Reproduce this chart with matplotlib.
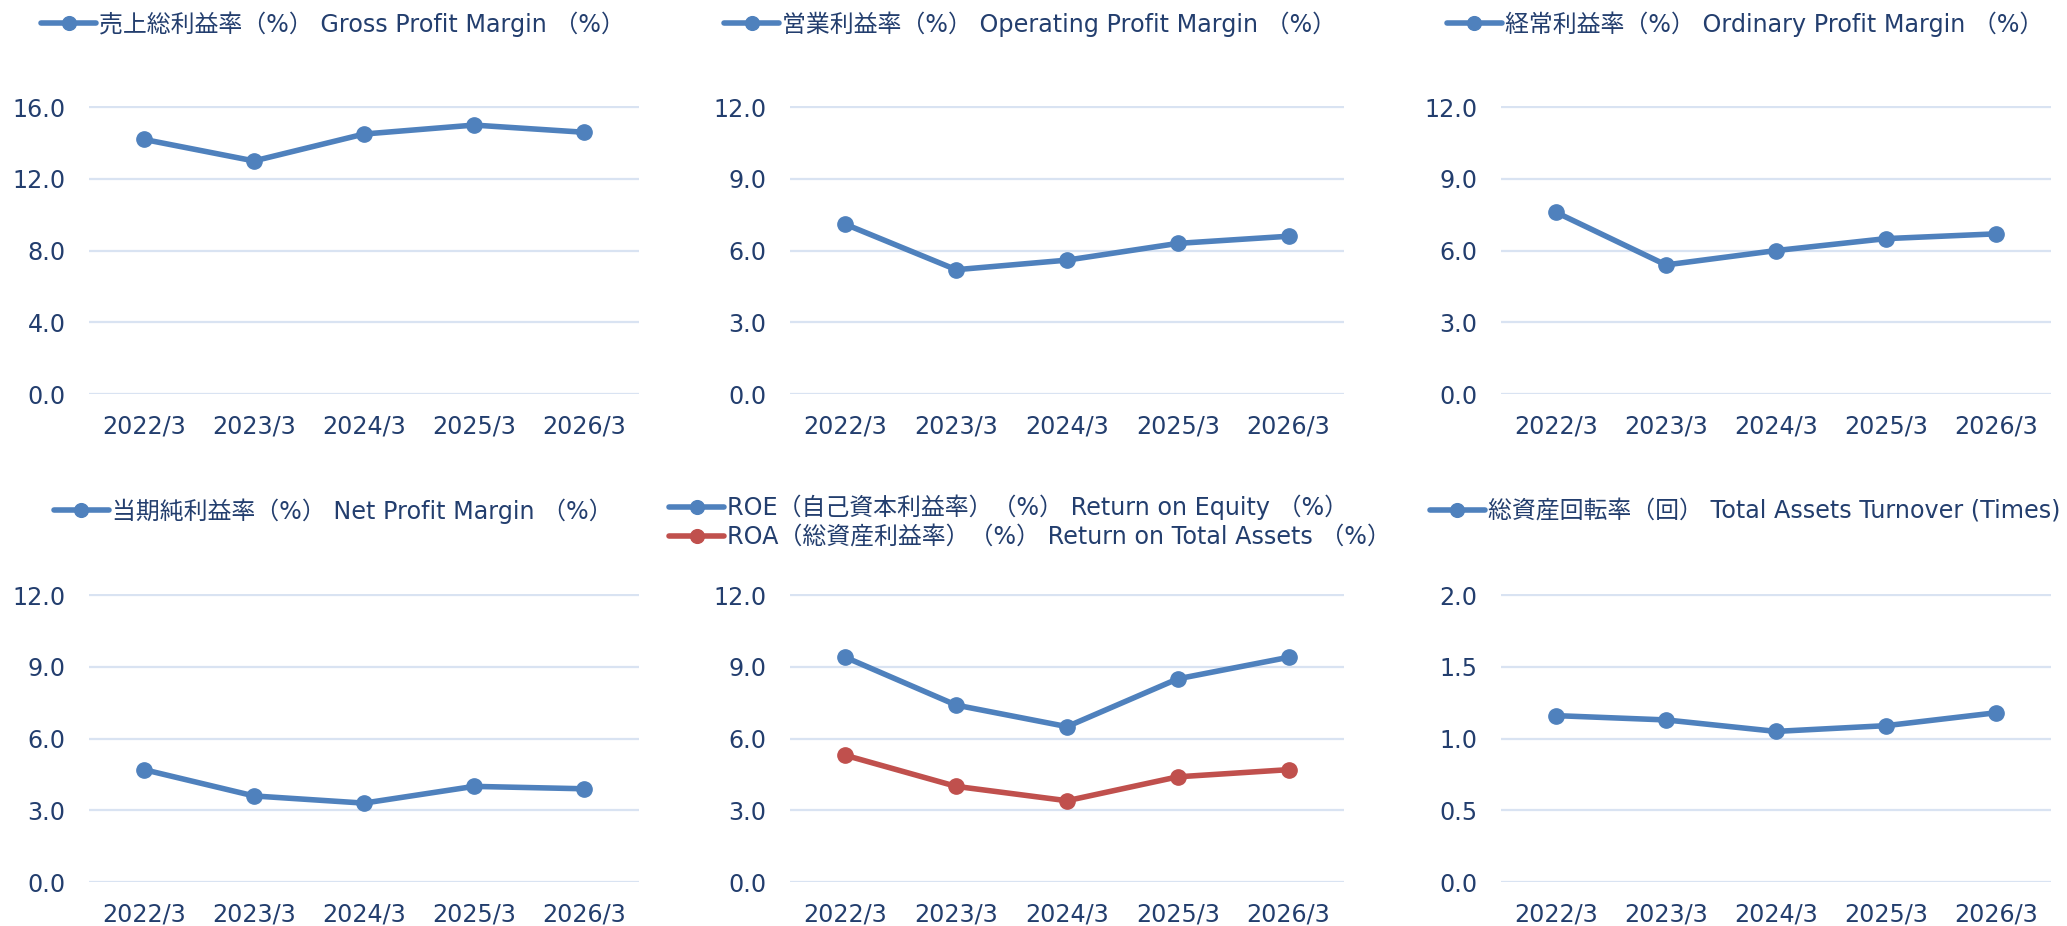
import matplotlib
matplotlib.use("Agg")
import matplotlib.pyplot as plt
from matplotlib.ticker import FormatStrFormatter

plt.rcParams['font.family'] = ['DejaVu Sans', 'Noto Sans CJK JP']

years = ['2022/3', '2023/3', '2024/3', '2025/3', '2026/3']

gross_margin = [14.2, 13.0, 14.5, 15.0, 14.6]
operating_margin = [7.1, 5.2, 5.6, 6.3, 6.6]
ordinary_margin = [7.6, 5.4, 6.0, 6.5, 6.7]
net_margin = [4.7, 3.6, 3.3, 4.0, 3.9]
roe = [9.4, 7.4, 6.5, 8.5, 9.4]
roa = [5.3, 4.0, 3.4, 4.4, 4.7]
turnover = [1.16, 1.13, 1.05, 1.09, 1.18]

blue = '#4F81BD'
red = '#C0504D'
txt = '#233E6E'
grid_c = '#D9E3F2'
fs = 17.2

fig = plt.figure(figsize=(20.67, 9.26), dpi=100)

lefts = [89, 790, 1501]
widths = [550, 554, 550]
tops = [106, 594]
h = 288
W, H = 2067, 926

panels = [
    ([(gross_margin, blue, '売上総利益率（%） Gross Profit Margin （%）')], 16, 4),
    ([(operating_margin, blue, '営業利益率（%） Operating Profit Margin （%）')], 12, 3),
    ([(ordinary_margin, blue, '経常利益率（%） Ordinary Profit Margin （%）')], 12, 3),
    ([(net_margin, blue, '当期純利益率（%） Net Profit Margin （%）')], 12, 3),
    ([(roe, blue, 'ROE（自己資本利益率）（%） Return on Equity （%）'),
      (roa, red, 'ROA（総資産利益率）（%） Return on Total Assets （%）')], 12, 3),
    ([(turnover, blue, '総資産回転率（回） Total Assets Turnover (Times)')], 2.0, 0.5),
]
legend_x = [333, 1030, 1745]
legend_y = [24, 511]

for k, (series, ymax, step) in enumerate(panels):
    r, c = divmod(k, 3)
    ax = fig.add_axes([lefts[c] / W, 1 - (tops[r] + h) / H, widths[c] / W, h / H])
    x = range(len(years))
    for vals, col, lab in series:
        ax.plot(x, vals, color=col, lw=4.0, marker='o', ms=11, label=lab,
                solid_capstyle='round', zorder=3)
    ax.set_xlim(-0.5, len(years) - 0.5)
    ax.set_ylim(0, ymax * 1.004)
    ticks = [i * step for i in range(int(round(ymax / step)) + 1)]
    ax.set_yticks(ticks)
    ax.yaxis.set_major_formatter(FormatStrFormatter('%.1f'))
    ax.set_xticks(list(x))
    ax.set_xticklabels(years)
    ax.grid(axis='y', color=grid_c, lw=1.6)
    ax.set_axisbelow(True)
    for s in ax.spines.values():
        s.set_visible(False)
    ax.tick_params(length=0, labelsize=fs, labelcolor=txt)
    ax.tick_params(axis='y', pad=17)
    ax.tick_params(axis='x', pad=15)
    ly = legend_y[r] if len(series) == 1 else 522
    ax.legend(loc='center', bbox_to_anchor=(legend_x[c] / W, 1 - ly / H),
              bbox_transform=fig.transFigure, frameon=False, fontsize=fs,
              labelcolor=txt, handlelength=2.3, handletextpad=0.12,
              labelspacing=0.2, borderaxespad=0, markerscale=0.9)

fig.savefig('out.png', dpi=100, facecolor='white')
